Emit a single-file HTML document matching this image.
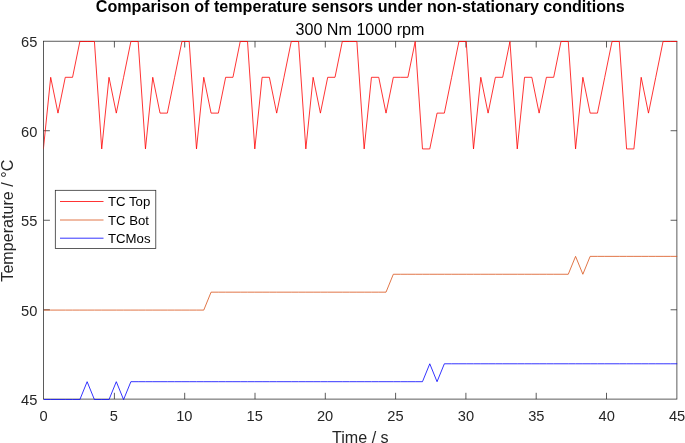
<!DOCTYPE html>
<html><head><meta charset="utf-8"><title>Comparison of temperature sensors</title>
<style>
html,body{margin:0;padding:0;background:#fff;}
svg{display:block;font-family:"Liberation Sans",Arial,Helvetica,sans-serif;}
</style></head><body>
<svg width="685" height="443" viewBox="0 0 685 443">
<rect width="685" height="443" fill="#fff"/>
<defs><clipPath id="c"><rect x="43.6" y="40.2" width="633.6999999999999" height="359.90000000000003"/></clipPath></defs>
<g fill="none" stroke="#262626" stroke-width="0.75">
<rect x="43.6" y="41.2" width="633.3" height="357.90000000000003"/>
<path d="M114.40 399.10V392.80M114.40 41.20V47.50"/><path d="M184.70 399.10V392.80M184.70 41.20V47.50"/><path d="M255.00 399.10V392.80M255.00 41.20V47.50"/><path d="M325.30 399.10V392.80M325.30 41.20V47.50"/><path d="M395.60 399.10V392.80M395.60 41.20V47.50"/><path d="M465.90 399.10V392.80M465.90 41.20V47.50"/><path d="M536.20 399.10V392.80M536.20 41.20V47.50"/><path d="M606.50 399.10V392.80M606.50 41.20V47.50"/><path d="M43.60 309.77H49.90M676.90 309.77H670.60"/><path d="M43.60 220.25H49.90M676.90 220.25H670.60"/><path d="M43.60 130.72H49.90M676.90 130.72H670.60"/>
</g>
<g fill="none" stroke-width="0.8" stroke-linejoin="round" clip-path="url(#c)">
<polyline stroke="#ff0000" points="43.40,148.93 50.69,77.31 57.98,113.12 65.27,77.31 72.56,77.31 79.85,41.50 87.14,41.50 94.43,41.50 101.72,148.93 109.01,77.31 116.30,113.12 123.59,77.31 130.88,41.50 138.17,41.50 145.46,148.93 152.75,77.31 160.04,113.12 167.33,113.12 174.62,77.31 181.91,41.50 189.20,41.50 196.49,148.93 203.78,77.31 211.07,113.12 218.36,113.12 225.65,77.31 232.94,77.31 240.23,41.50 247.52,41.50 254.81,148.93 262.10,77.31 269.39,77.31 276.68,113.12 283.97,77.31 291.26,41.50 298.55,41.50 305.84,148.93 313.13,77.31 320.42,113.12 327.71,77.31 335.00,77.31 342.29,41.50 349.58,41.50 356.87,41.50 364.16,148.93 371.45,77.31 378.74,77.31 386.03,113.12 393.32,77.31 400.61,77.31 407.90,77.31 415.19,41.50 422.48,148.93 429.77,148.93 437.06,113.12 444.35,113.12 451.64,77.31 458.93,41.50 466.22,41.50 473.51,148.93 480.80,77.31 488.09,113.12 495.38,77.31 502.67,77.31 509.96,41.50 517.25,148.93 524.54,77.31 531.83,77.31 539.12,113.12 546.41,77.31 553.70,77.31 560.99,41.50 568.28,41.50 575.57,148.93 582.86,77.31 590.15,113.12 597.44,113.12 604.73,77.31 612.02,41.50 619.31,41.50 626.60,148.93 633.89,148.93 641.18,77.31 648.47,113.12 655.76,77.31 663.05,41.50 670.34,41.50 677.63,41.50"/>
<polyline stroke="#d95319" points="43.40,310.08 50.69,310.08 57.98,310.08 65.27,310.08 72.56,310.08 79.85,310.08 87.14,310.08 94.43,310.08 101.72,310.08 109.01,310.08 116.30,310.08 123.59,310.08 130.88,310.08 138.17,310.08 145.46,310.08 152.75,310.08 160.04,310.08 167.33,310.08 174.62,310.08 181.91,310.08 189.20,310.08 196.49,310.08 203.78,310.08 211.07,292.17 218.36,292.17 225.65,292.17 232.94,292.17 240.23,292.17 247.52,292.17 254.81,292.17 262.10,292.17 269.39,292.17 276.68,292.17 283.97,292.17 291.26,292.17 298.55,292.17 305.84,292.17 313.13,292.17 320.42,292.17 327.71,292.17 335.00,292.17 342.29,292.17 349.58,292.17 356.87,292.17 364.16,292.17 371.45,292.17 378.74,292.17 386.03,292.17 393.32,274.26 400.61,274.26 407.90,274.26 415.19,274.26 422.48,274.26 429.77,274.26 437.06,274.26 444.35,274.26 451.64,274.26 458.93,274.26 466.22,274.26 473.51,274.26 480.80,274.26 488.09,274.26 495.38,274.26 502.67,274.26 509.96,274.26 517.25,274.26 524.54,274.26 531.83,274.26 539.12,274.26 546.41,274.26 553.70,274.26 560.99,274.26 568.28,274.26 575.57,256.36 582.86,274.26 590.15,256.36 597.44,256.36 604.73,256.36 612.02,256.36 619.31,256.36 626.60,256.36 633.89,256.36 641.18,256.36 648.47,256.36 655.76,256.36 663.05,256.36 670.34,256.36 677.63,256.36"/>
<polyline stroke="#0000ff" points="43.40,399.60 50.69,399.60 57.98,399.60 65.27,399.60 72.56,399.60 79.85,399.60 87.14,381.70 94.43,399.60 101.72,399.60 109.01,399.60 116.30,381.70 123.59,399.60 130.88,381.70 138.17,381.70 145.46,381.70 152.75,381.70 160.04,381.70 167.33,381.70 174.62,381.70 181.91,381.70 189.20,381.70 196.49,381.70 203.78,381.70 211.07,381.70 218.36,381.70 225.65,381.70 232.94,381.70 240.23,381.70 247.52,381.70 254.81,381.70 262.10,381.70 269.39,381.70 276.68,381.70 283.97,381.70 291.26,381.70 298.55,381.70 305.84,381.70 313.13,381.70 320.42,381.70 327.71,381.70 335.00,381.70 342.29,381.70 349.58,381.70 356.87,381.70 364.16,381.70 371.45,381.70 378.74,381.70 386.03,381.70 393.32,381.70 400.61,381.70 407.90,381.70 415.19,381.70 422.48,381.70 429.77,363.79 437.06,381.70 444.35,363.79 451.64,363.79 458.93,363.79 466.22,363.79 473.51,363.79 480.80,363.79 488.09,363.79 495.38,363.79 502.67,363.79 509.96,363.79 517.25,363.79 524.54,363.79 531.83,363.79 539.12,363.79 546.41,363.79 553.70,363.79 560.99,363.79 568.28,363.79 575.57,363.79 582.86,363.79 590.15,363.79 597.44,363.79 604.73,363.79 612.02,363.79 619.31,363.79 626.60,363.79 633.89,363.79 641.18,363.79 648.47,363.79 655.76,363.79 663.05,363.79 670.34,363.79 677.63,363.79"/>
</g>
<g fill="#262626" font-size="14.67px"><text transform="translate(43.50 420.50) scale(1 1.060)" text-anchor="middle">0</text><text transform="translate(113.90 420.50) scale(1 1.060)" text-anchor="middle">5</text><text transform="translate(184.30 420.50) scale(1 1.060)" text-anchor="middle">10</text><text transform="translate(254.70 420.50) scale(1 1.060)" text-anchor="middle">15</text><text transform="translate(325.10 420.50) scale(1 1.060)" text-anchor="middle">20</text><text transform="translate(395.50 420.50) scale(1 1.060)" text-anchor="middle">25</text><text transform="translate(465.90 420.50) scale(1 1.060)" text-anchor="middle">30</text><text transform="translate(536.30 420.50) scale(1 1.060)" text-anchor="middle">35</text><text transform="translate(606.70 420.50) scale(1 1.060)" text-anchor="middle">40</text><text transform="translate(677.10 420.50) scale(1 1.060)" text-anchor="middle">45</text><text transform="translate(37.40 405.10) scale(1 1.060)" text-anchor="end">45</text><text transform="translate(37.40 315.57) scale(1 1.060)" text-anchor="end">50</text><text transform="translate(37.40 226.05) scale(1 1.060)" text-anchor="end">55</text><text transform="translate(37.40 136.52) scale(1 1.060)" text-anchor="end">60</text><text transform="translate(37.40 47.00) scale(1 1.060)" text-anchor="end">65</text></g>
<text x="360.3" y="11.7" text-anchor="middle" font-size="16.13px" font-weight="bold" fill="#000">Comparison of temperature sensors under non-stationary conditions</text>
<text x="360" y="34.5" text-anchor="middle" font-size="16.13px" fill="#000">300 Nm 1000 rpm</text>
<text x="360.3" y="442.7" text-anchor="middle" font-size="16.13px" fill="#262626">Time / s</text>
<text transform="translate(12.6 220.7) rotate(-90)" text-anchor="middle" font-size="16.13px" fill="#262626">Temperature / °C</text>
<g>
<rect x="55.3" y="190.3" width="100.5" height="58.1" fill="#fff" stroke="#262626" stroke-width="0.75"/>
<g stroke-width="0.8" fill="none">
<path stroke="#ff0000" d="M60 201.5H103.5"/>
<path stroke="#d95319" d="M60 220H103.5"/>
<path stroke="#0000ff" d="M60 238.2H103.5"/>
</g>
<g font-size="13.2px" fill="#000">
<text x="108" y="206.4">TC Top</text>
<text x="108" y="224.8">TC Bot</text>
<text x="108" y="243">TCMos</text>
</g>
</g>
</svg>
</body></html>
